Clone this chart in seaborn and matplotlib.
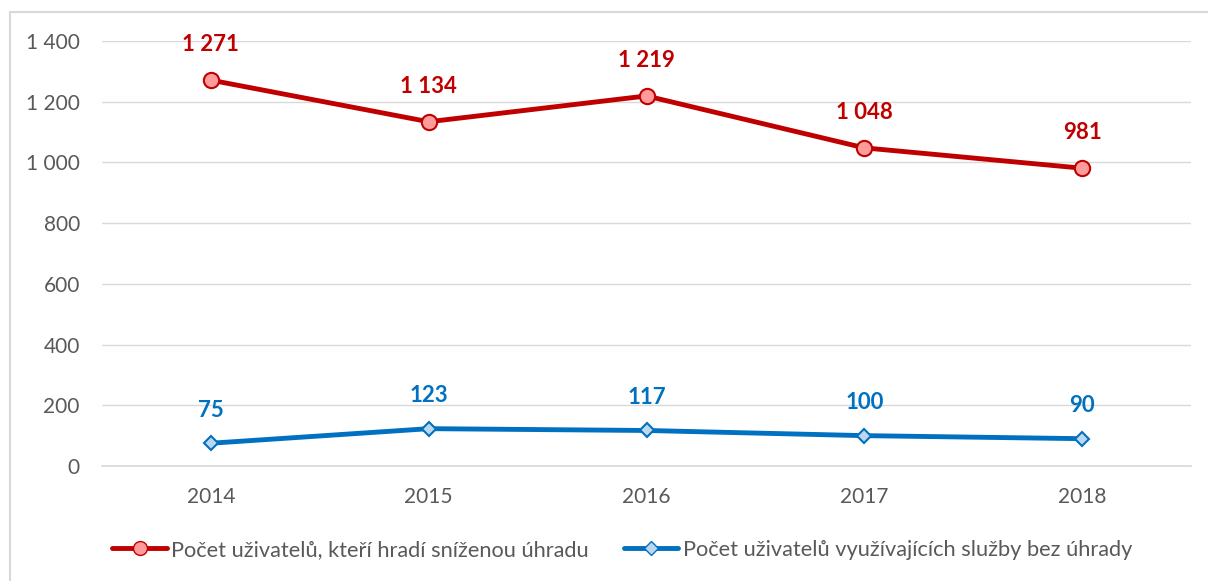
import matplotlib
matplotlib.use("Agg")
import matplotlib.pyplot as plt
import seaborn as sns
import pandas as pd
from matplotlib.patches import Rectangle
from matplotlib.ticker import FuncFormatter
from matplotlib.lines import Line2D

years = ["2014", "2015", "2016", "2017", "2018"]
reduced = [1271, 1134, 1219, 1048, 981]
free = [75, 123, 117, 100, 90]
series_names = ["Počet uživatelů, kteří hradí sníženou úhradu",
                "Počet uživatelů využívajících služby bez úhrady"]
yticks = [0, 200, 400, 600, 800, 1000, 1200, 1400]

sns.set_theme(style="white")
plt.rcParams['font.family'] = ['Lato', 'DejaVu Sans']

df = pd.DataFrame({"year": years * 2,
                   "value": reduced + free,
                   "series": [series_names[0]] * 5 + [series_names[1]] * 5})

fig = plt.figure(figsize=(12.08, 5.81), dpi=100)
ax = fig.add_axes([102/1208, 1-466/581, (1191-102)/1208, (466-41)/581])

red = "#C00000"
blue = "#0070C0"
sns.lineplot(data=df, x="year", y="value", hue="series", style="series",
             palette=[red, blue], markers=["o", "D"], dashes=False,
             linewidth=3.5, markersize=10, ax=ax, sort=False, legend=False)
lines = ax.get_lines()
lines[0].set_markerfacecolor("#FF9B9B"); lines[0].set_markeredgecolor(red); lines[0].set_markeredgewidth(1.5)
lines[0].set_markersize(11)
lines[1].set_markerfacecolor("#BDD7EE"); lines[1].set_markeredgecolor(blue); lines[1].set_markeredgewidth(1.5)
lines[1].set_markersize(7)

def fmt(v):
    return f"{v:,}".replace(",", " ")

for i, v in enumerate(reduced):
    ax.annotate(fmt(v), (i, v), xytext=(0, 18), textcoords="offset points",
                ha="center", va="bottom", color=red, fontsize=16, fontweight="bold")
for i, v in enumerate(free):
    ax.annotate(fmt(v), (i, v), xytext=(0, 16), textcoords="offset points",
                ha="center", va="bottom", color=blue, fontsize=16, fontweight="bold")

ax.set_xlim(-0.5, 4.5)
ax.set_ylim(0, 1400)
ax.set_yticks(yticks)
ax.yaxis.set_major_formatter(FuncFormatter(lambda v, p: fmt(int(v))))
ax.grid(axis="y", color="#D9D9D9", linewidth=1)
ax.set_axisbelow(True)
for s in ["top", "right", "left"]:
    ax.spines[s].set_visible(False)
ax.spines["bottom"].set_color("#D9D9D9")
ax.tick_params(axis="both", length=0, labelsize=15, colors="#595959")
ax.tick_params(axis="y", pad=16)
ax.tick_params(axis="x", pad=15)
ax.set_xlabel("")
ax.set_ylabel("")

handles = [Line2D([], [], color=red, lw=3.5, marker="o", markersize=10,
                  markerfacecolor="#FF9B9B", markeredgecolor=red),
           Line2D([], [], color=blue, lw=3.5, marker="D", markersize=7,
                  markerfacecolor="#BDD7EE", markeredgecolor=blue)]
leg = fig.legend(handles, series_names, loc="center", bbox_to_anchor=(0.515, 1-550/581),
                 ncol=2, frameon=False, fontsize=15.7, handlelength=2.5,
                 columnspacing=1.6, handletextpad=0.2)
for t in leg.get_texts():
    t.set_color("#595959")

fig.patches.append(Rectangle((10/1208, -0.1), 1.2, 1-12/581+0.1, transform=fig.transFigure,
                             fill=False, edgecolor="#D9D9D9", linewidth=1.5))

fig.savefig("out.png", dpi=100)
